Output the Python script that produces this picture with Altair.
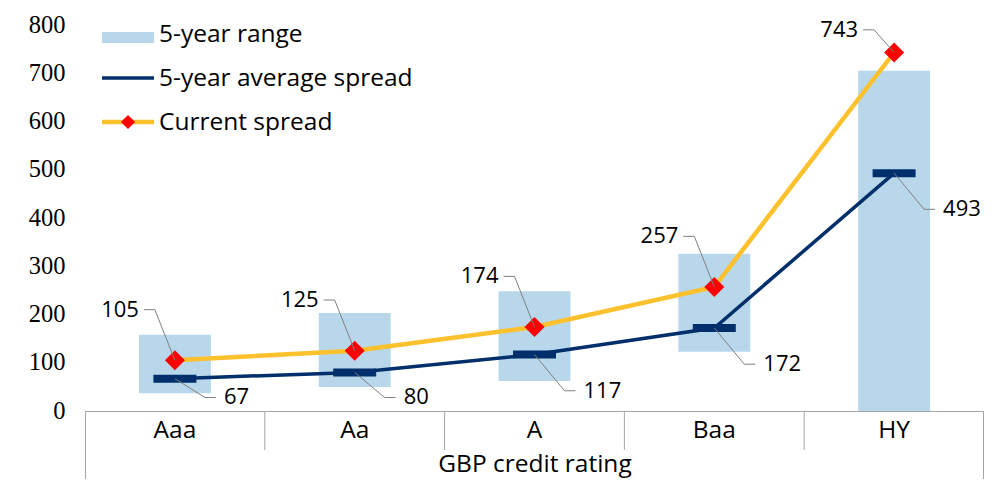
import altair as alt
import pandas as pd

# ---- data ----
categories = ["Aaa", "Aa", "A", "Baa", "HY"]
range_low = [37, 50, 62, 123, 0]
range_high = [158, 203, 248, 326, 705]
avg_spread = [67, 80, 117, 172, 493]
current_spread = [105, 125, 174, 257, 743]
y_ticks = [0, 100, 200, 300, 400, 500, 600, 700, 800]
legend_labels = ["5-year range", "5-year average spread", "Current spread"]
x_title = "GBP credit rating"

# ---- styles ----
FONT = "Open Sans"
FS = 22
AFS = 24.5
NAVY = "#002F6C"
YELLOW = "#FDC12E"
BLUE = "#B8D7EB"
RED = "#FF0000"
GREY = "#808080"
AXIS = "#A6A6A6"
W, H = 899, 386

df = pd.DataFrame({
    "cat": categories,
    "low": range_low,
    "high": range_high,
    "avg": avg_spread,
    "cur": current_spread,
})

base = alt.Chart(df).transform_calculate(
    top_lbl="min(datum.cur + 105, 790)",
    bot_lbl="max(datum.avg - 75, 28)",
)

y_scale = alt.Scale(domain=[0, 800], nice=False, zero=True)
x_scale = alt.Scale(paddingInner=0, paddingOuter=0)

x_axis = alt.Axis(
    title=x_title, domain=True, domainColor=AXIS, domainWidth=1, ticks=False,
    grid=False, labelAngle=0, labelFont=FONT, labelFontSize=AFS, labelColor="#000",
    labelPadding=7, titleFont=FONT, titleFontSize=AFS, titleFontWeight="normal",
    titleColor="#000", titlePadding=11,
)
y_axis = alt.Axis(
    values=y_ticks, title=None, domain=False, ticks=False, grid=False,
    labelFont="Liberation Serif", labelFontSize=24.5, labelColor="#000", labelPadding=20,
)

xe = alt.X("cat:N", sort=categories, scale=x_scale, axis=x_axis)
ye = lambda f: alt.Y(f, scale=y_scale, axis=y_axis)

bars = base.mark_bar(color=BLUE, width=alt.RelativeBandSize(0.4)).encode(
    x=xe, y=ye("low:Q"), y2="high:Q")

avg_line = base.mark_line(color=NAVY, strokeWidth=3.5).encode(x=xe, y=ye("avg:Q"))
avg_tick = base.mark_tick(color=NAVY, size=43, thickness=8, opacity=1).encode(
    x=xe, y=ye("avg:Q"))
cur_line = base.mark_line(color=YELLOW, strokeWidth=4.5).encode(x=xe, y=ye("cur:Q"))
cur_pts = base.mark_point(shape="diamond", filled=True, size=400, color=RED, opacity=1).encode(
    x=xe, y=ye("cur:Q"))

# leader lines + labels (current spread: upper left)
cur_diag = base.mark_rule(color=GREY, strokeWidth=1, x2Offset=-20).encode(
    x=xe, x2="cat:N", y=ye("cur:Q"), y2="top_lbl:Q")
cur_hor = base.mark_rule(color=GREY, strokeWidth=1, xOffset=-20, x2Offset=-31).encode(
    x=xe, x2="cat:N", y=ye("top_lbl:Q"))
cur_txt = base.mark_text(align="right", baseline="middle", dx=-36, font=FONT,
                         fontSize=FS, color="#000").encode(
    x=xe, y=ye("top_lbl:Q"), text="cur:Q")

# leader lines + labels (average: lower right)
avg_diag = base.mark_rule(color=GREY, strokeWidth=1, x2Offset=30).encode(
    x=xe, x2="cat:N", y=ye("avg:Q"), y2="bot_lbl:Q")
avg_hor = base.mark_rule(color=GREY, strokeWidth=1, xOffset=30, x2Offset=41).encode(
    x=xe, x2="cat:N", y=ye("bot_lbl:Q"))
avg_txt = base.mark_text(align="left", baseline="middle", dx=49, font=FONT,
                         fontSize=FS, color="#000").encode(
    x=xe, y=ye("bot_lbl:Q"), text="avg:Q")

# category dividers under the axis
dividers = alt.Chart(df).transform_filter("datum.cat != 'Aaa'").mark_rule(
    color=AXIS, strokeWidth=1).encode(
    x=alt.X("cat:N", sort=categories, scale=x_scale, axis=x_axis, bandPosition=0),
    y=alt.value(H), y2=alt.value(H + 39))

one = pd.DataFrame({"k": [0]})
left_edge = alt.Chart(one).mark_rule(color=AXIS, strokeWidth=1).encode(
    x=alt.value(0.5), y=alt.value(H), y2=alt.value(H + 80))
right_edge = alt.Chart(one).mark_rule(color=AXIS, strokeWidth=1).encode(
    x=alt.value(W - 0.5), y=alt.value(H), y2=alt.value(H + 80))
top_border = alt.Chart(one).mark_rule(color="#DCDCDC", strokeWidth=1).encode(
    x=alt.value(-77), x2=alt.value(W), y=alt.value(-18))

# manual legend
LFS = 24.5
leg = []
leg.append(alt.Chart(one).mark_rect(color=BLUE).encode(
    x=alt.value(17), x2=alt.value(69), y=alt.value(7), y2=alt.value(18)))
leg.append(alt.Chart(one).mark_rule(color=NAVY, strokeWidth=3.5).encode(
    x=alt.value(17), x2=alt.value(69), y=alt.value(53)))
leg.append(alt.Chart(one).mark_rule(color=YELLOW, strokeWidth=4.5).encode(
    x=alt.value(17), x2=alt.value(69), y=alt.value(97)))
leg.append(alt.Chart(one).mark_point(shape="diamond", filled=True, size=200, color=RED, opacity=1).encode(
    x=alt.value(43), y=alt.value(97)))
for i, lab in enumerate(legend_labels):
    leg.append(alt.Chart(pd.DataFrame({"t": [lab]})).mark_text(
        align="left", baseline="middle", font=FONT, fontSize=LFS, color="#000").encode(
        x=alt.value(74), y=alt.value(10 + 44 * i), text="t:N"))

chart = alt.layer(
    bars, avg_line, avg_tick, cur_line, cur_pts,
    cur_diag, cur_hor, cur_txt, avg_diag, avg_hor, avg_txt,
    dividers, left_edge, right_edge, top_border, *leg,
).properties(
    width=W, height=H,
    padding={"left": 77, "top": 17, "right": 0, "bottom": 68},
    autosize=alt.AutoSizeParams(type="none"),
    background="white",
).configure_view(stroke=None)

chart.save("out.html", embed_options={"renderer": "svg", "actions": False})
